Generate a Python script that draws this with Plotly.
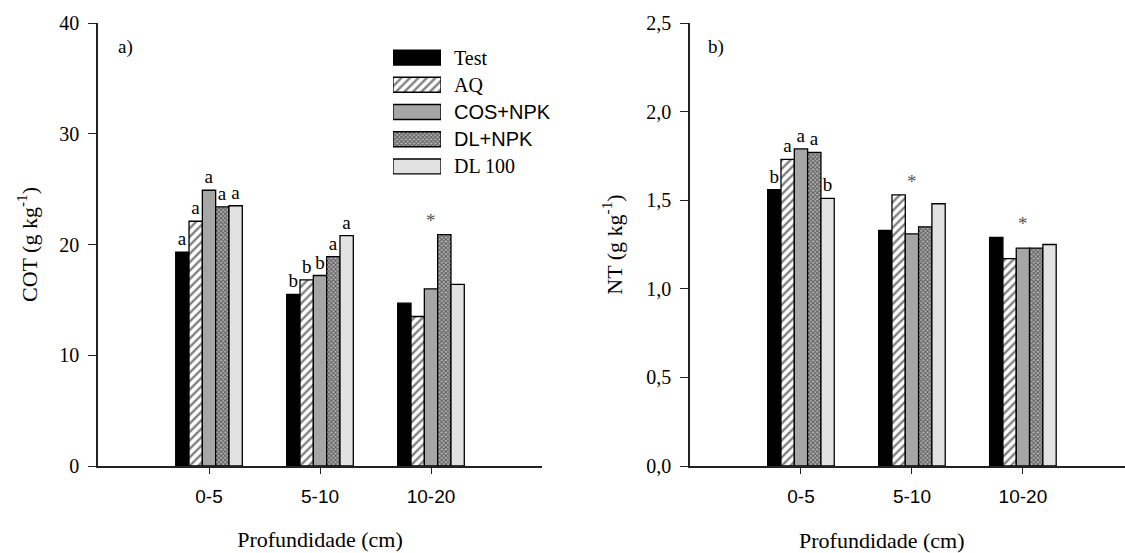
import plotly.graph_objects as go

# ---------------- data ----------------
depths = ["0-5", "5-10", "10-20"]
series = ["Test", "AQ", "COS+NPK", "DL+NPK", "DL 100"]

cot_test = [19.3, 15.5, 14.7]
cot_aq = [22.1, 16.8, 13.5]
cot_cos = [24.9, 17.2, 16.0]
cot_dl = [23.4, 18.9, 20.9]
cot_dl100 = [23.5, 20.8, 16.4]

nt_test = [1.56, 1.33, 1.29]
nt_aq = [1.73, 1.53, 1.17]
nt_cos = [1.79, 1.31, 1.23]
nt_dl = [1.77, 1.35, 1.23]
nt_dl100 = [1.51, 1.48, 1.25]

cot_let_test = ["a", "b", ""]
cot_let_aq = ["a", "b", ""]
cot_let_cos = ["a", "b", ""]
cot_let_dl = ["a", "a", ""]
cot_let_dl100 = ["a", "a", ""]

nt_let_test = ["b", "", ""]
nt_let_aq = ["a", "", ""]
nt_let_cos = ["a", "", ""]
nt_let_dl = ["a", "", ""]
nt_let_dl100 = ["b", "", ""]

cot_star = ["", "", "*"]
nt_star = ["", "*", "*"]

cot_ticks = [0, 10, 20, 30, 40]
nt_ticks = [0, 0.5, 1.0, 1.5, 2.0, 2.5]

# ---------------- styles ----------------
W, H = 1125, 553
SERIF = "Liberation Serif, Times New Roman, serif"
SANS = "Liberation Sans, Arial, sans-serif"

styles = {
    "Test": dict(color="#000000"),
    "AQ": dict(color="#ffffff", pattern=dict(shape="/", fgcolor="#000000", bgcolor="#ffffff", size=6, solidity=0.4)),
    "COS+NPK": dict(color="#a6a6a6"),
    "DL+NPK": dict(color="#999999", pattern=dict(shape="x", fgcolor="#000000", bgcolor="#b4b4b4", size=3, solidity=0.55)),
    "DL 100": dict(color="#e2e2e2"),
}
legend_fonts = {"Test": SERIF, "AQ": SERIF, "COS+NPK": SANS, "DL+NPK": SANS, "DL 100": SERIF}

cot_vals = [cot_test, cot_aq, cot_cos, cot_dl, cot_dl100]
nt_vals = [nt_test, nt_aq, nt_cos, nt_dl, nt_dl100]
cot_lets = [cot_let_test, cot_let_aq, cot_let_cos, cot_let_dl, cot_let_dl100]
nt_lets = [nt_let_test, nt_let_aq, nt_let_cos, nt_let_dl, nt_let_dl100]


def px(x):
    return x / W


def py(y):
    return 1 - y / H


fig = go.Figure()

for name, vals, lets in zip(series, cot_vals, cot_lets):
    fig.add_trace(go.Bar(
        x=depths, y=vals, name=name, xaxis="x", yaxis="y",
        marker=dict(line=dict(color="#000000", width=1.3), **styles[name]),
        text=lets, textposition="outside", cliponaxis=False, constraintext="none",
        textfont=dict(family=SERIF, size=19, color="#000000"),
        showlegend=False,
    ))

for name, vals, lets in zip(series, nt_vals, nt_lets):
    fig.add_trace(go.Bar(
        x=depths, y=vals, name=name, xaxis="x2", yaxis="y2",
        marker=dict(line=dict(color="#000000", width=1.3), **styles[name]),
        text=lets, textposition="outside", cliponaxis=False, constraintext="none",
        textfont=dict(family=SERIF, size=19, color="#000000"),
        showlegend=False,
    ))

# legend swatches drawn on a hidden axis
for name in series:
    fig.add_trace(go.Bar(
        y=[name], x=[1], orientation="h", xaxis="x3", yaxis="y3",
        width=0.55, offset=-0.275,
        marker=dict(line=dict(color="#000000", width=1.3), **styles[name]),
        showlegend=False, hoverinfo="skip",
    ))

annotations = []
for name in series:
    annotations.append(dict(
        x=px(452), xref="paper", y=name, yref="y3", text=name, showarrow=False,
        xanchor="left", yanchor="middle",
        font=dict(family=legend_fonts[name], size=20, color="#000000"),
    ))

# group significance stars
for i, d in enumerate(depths):
    if cot_star[i]:
        annotations.append(dict(x=d, y=max(v[i] for v in cot_vals), xref="x", yref="y",
                                text=cot_star[i], showarrow=False, yanchor="bottom", yshift=2,
                                font=dict(family=SERIF, size=19, color="#555555")))
    if nt_star[i]:
        annotations.append(dict(x=d, y=max(v[i] for v in nt_vals), xref="x2", yref="y2",
                                text=nt_star[i], showarrow=False, yanchor="bottom", yshift=1,
                                font=dict(family=SERIF, size=19, color="#555555")))

# panel letters and right x title
annotations += [
    dict(x=px(116), y=py(47), xref="paper", yref="paper", text="a)", showarrow=False,
         xanchor="left", yanchor="middle", font=dict(family=SERIF, size=19, color="#000")),
    dict(x=px(706), y=py(47), xref="paper", yref="paper", text="b)", showarrow=False,
         xanchor="left", yanchor="middle", font=dict(family=SERIF, size=19, color="#000")),
    dict(x=px(882), y=py(540), xref="paper", yref="paper", text="Profundidade (cm)",
         showarrow=False, xanchor="center", yanchor="middle",
         font=dict(family=SERIF, size=22, color="#000")),
]

axis_common = dict(showline=True, linecolor="#222222", linewidth=1.5, showgrid=False,
                   zeroline=False, ticks="outside", tickcolor="#222222", tickwidth=1.3,
                   automargin=False)
title_font = dict(family=SERIF, size=22, color="#000")

fig.update_layout(
    width=W, height=H,
    margin=dict(l=0, r=0, t=0, b=0),
    paper_bgcolor="white", plot_bgcolor="white",
    barmode="group", bargap=0.4, bargroupgap=0,
    separators=",.",
    showlegend=False,
    xaxis=dict(domain=[px(98), px(542)], anchor="y", type="category", range=[-1, 3],
               ticklen=6, ticklabelstandoff=6, tickfont=dict(family=SANS, size=19, color="#000"),
               title=dict(text="Profundidade (cm)", font=title_font, standoff=26),
               **axis_common),
    yaxis=dict(domain=[py(466), py(23)], anchor="x", range=[0, 40], tickvals=cot_ticks,
               ticklen=8, ticklabelstandoff=5, tickfont=dict(family=SERIF, size=20, color="#000"),
               title=dict(text="COT (g kg<sup>-1</sup>)", font=title_font, standoff=16),
               **axis_common),
    xaxis2=dict(domain=[px(690), 1.0], anchor="y2", type="category", range=[-1, 2.92],
                ticklen=6, ticklabelstandoff=6, tickfont=dict(family=SANS, size=19, color="#000"),
                **axis_common),
    yaxis2=dict(domain=[py(466), py(23)], anchor="x2", range=[0, 2.5], tickvals=nt_ticks,
                tickformat=".1f", ticklen=8, ticklabelstandoff=5,
                tickfont=dict(family=SERIF, size=20, color="#000"),
                title=dict(text="NT (g kg<sup>-1</sup>)", font=title_font, standoff=18),
                **axis_common),
    xaxis3=dict(domain=[px(393), px(441)], anchor="y3", range=[0, 1], visible=False,
                fixedrange=True, automargin=False),
    yaxis3=dict(domain=[py(180.1), py(43.9)], anchor="x3", type="category",
                categoryorder="array", categoryarray=series, range=[4.5, -0.5],
                visible=False, fixedrange=True, automargin=False),
    annotations=annotations,
)

fig.write_html("out.html")
